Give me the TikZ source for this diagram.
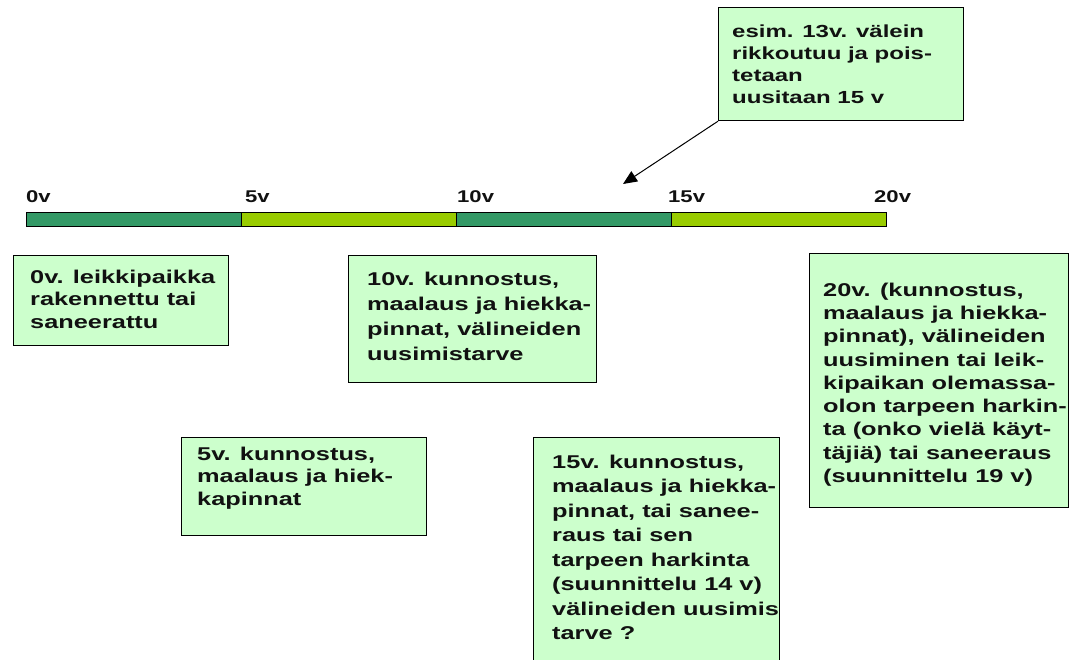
\documentclass[tikz,border=0pt]{standalone}
\usepackage{fontspec}
\setmainfont{Liberation Sans}
\usetikzlibrary{arrows.meta}
\definecolor{boxfill}{HTML}{CCFFCC}
\definecolor{dkgreen}{HTML}{339966}
\definecolor{ltgreen}{HTML}{99CC00}
\definecolor{ink}{HTML}{111111}
\newcommand{\tx}[3]{\scalebox{1.37}[1]{\fontsize{#1}{#2}\selectfont\bfseries\begin{tabular}[t]{@{}l@{}}#3\end{tabular}}}
\newcommand{\lb}[1]{\scalebox{1.3}[1]{\fontsize{17}{20}\selectfont\bfseries #1}}
\tikzset{
  box/.style={draw=black, line width=1.2pt, fill=boxfill, inner sep=0pt, anchor=north west},
  txt/.style={inner sep=0pt, anchor=base west, text=ink},
  seg/.style={draw=black, line width=0.8pt, inner sep=0pt, minimum width=215pt, minimum height=14pt},
  lab/.style={inner sep=0pt, anchor=base west, text=ink},
  conn/.style={line width=1pt, -{Triangle[length=14pt,width=12pt]}}
}
\begin{document}
\begin{tikzpicture}[x=1pt,y=-1pt]
\useasboundingbox (0,0) rectangle (1076,660);
% timeline bar
\node[seg, fill=dkgreen] (s1) at (133.5,219) {};
\node[seg, fill=ltgreen] (s2) at (348.5,219) {};
\node[seg, fill=dkgreen] (s3) at (563.5,219) {};
\node[seg, fill=ltgreen] (s4) at (778.5,219) {};
\node[lab] (l0) at (26,203) {\lb{0v}};
\node[lab] (l5) at (245,203) {\lb{5v}};
\node[lab] (l10) at (457,203) {\lb{10v}};
\node[lab] (l15) at (668,203) {\lb{15v}};
\node[lab] (l20) at (874,203) {\lb{20v}};
% boxes
\node[box, minimum width=245pt, minimum height=113pt] (top) at (718,7) {};
\node[txt] (ttop) at (732,37.5) {\tx{17.5}{22}{esim. 13v. välein\\rikkoutuu ja pois-\\tetaan\\uusitaan 15 v}};
\node[box, minimum width=215pt, minimum height=90pt] (b0) at (13,255) {};
\node[txt] (t0) at (30,283.2) {\tx{18.5}{22.5}{0v. leikkipaikka\\rakennettu tai\\saneerattu}};
\node[box, minimum width=248pt, minimum height=127pt] (b10) at (348,255) {};
\node[txt] (t10) at (367,285.2) {\tx{18.5}{25}{10v. kunnostus,\\maalaus ja hiekka-\\pinnat, välineiden\\uusimistarve}};
\node[box, minimum width=259pt, minimum height=254pt] (b20) at (809,253) {};
\node[txt] (t20) at (823,296.2) {\tx{18.5}{23.3}{20v. (kunnostus,\\maalaus ja hiekka-\\pinnat), välineiden\\uusiminen tai leik-\\kipaikan olemassa-\\olon tarpeen harkin-\\ta (onko vielä käyt-\\täjiä) tai saneeraus\\(suunnittelu 19 v)}};
\node[box, minimum width=245pt, minimum height=98pt] (b5) at (181,437) {};
\node[txt] (t5) at (197,460.2) {\tx{18.5}{22.5}{5v. kunnostus,\\maalaus ja hiek-\\kapinnat}};
\node[box, minimum width=246pt, minimum height=233pt] (b15) at (533,437) {};
\node[txt] (t15) at (552,468.2) {\tx{18.5}{24.5}{15v. kunnostus,\\maalaus ja hiekka-\\pinnat, tai sanee-\\raus tai sen\\tarpeen harkinta\\(suunnittelu 14 v)\\välineiden uusimis\\tarve ?}};
% arrow
\coordinate (tip) at (623,184);
\draw[conn] (top.south west) -- (tip);
\end{tikzpicture}
\end{document}
